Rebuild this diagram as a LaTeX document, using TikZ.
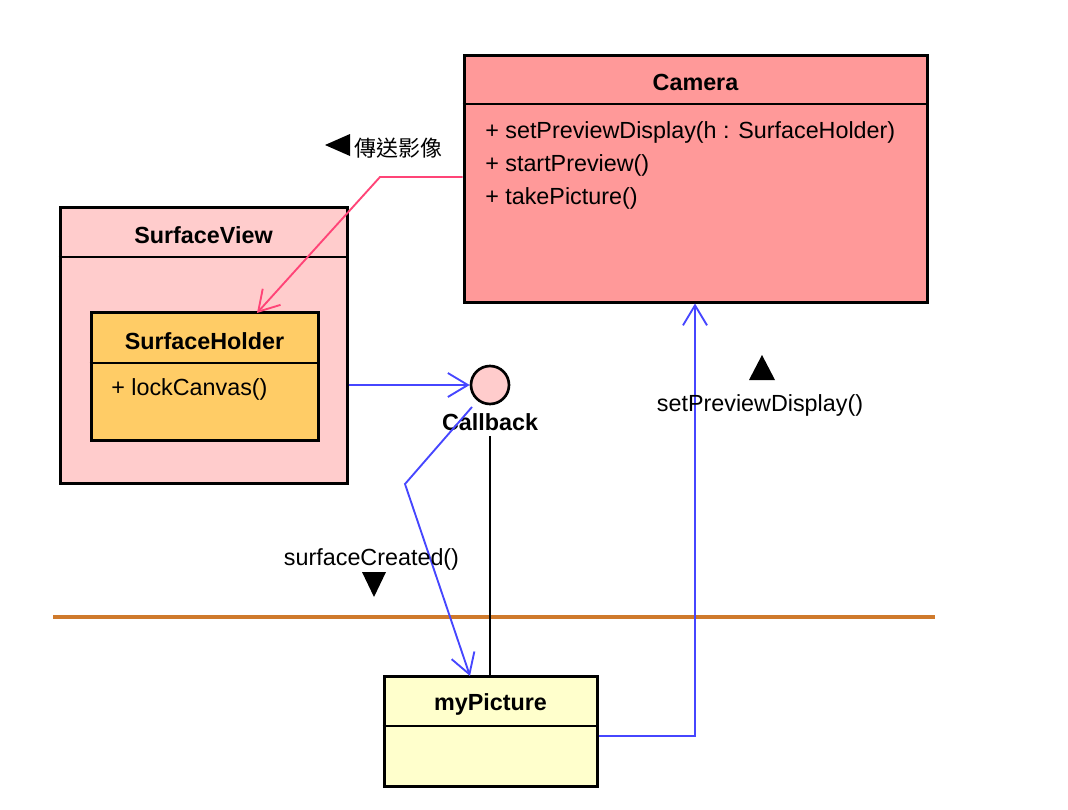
\documentclass[tikz,border=0pt]{standalone}
\usepackage{fontspec}
\setmainfont{Liberation Sans}
\newfontfamily\cjkfont{Noto Sans CJK TC}
\usetikzlibrary{arrows.meta,calc}
\definecolor{camfill}{HTML}{FF9999}
\definecolor{viewfill}{HTML}{FFCCCC}
\definecolor{holderfill}{HTML}{FFCC66}
\definecolor{picfill}{HTML}{FFFFCC}
\definecolor{flowblue}{HTML}{4646FF}
\definecolor{flowpink}{HTML}{FF4477}
\definecolor{boundary}{HTML}{CF7A2C}
\begin{document}
\begin{tikzpicture}[x=0.75pt,y=-0.75pt,
  font=\fontsize{17.5}{20}\selectfont,
  classbox/.style={draw=black, line width=2.25pt, rectangle, inner sep=0pt},
  sepline/.style={line width=1.1pt},
  title/.style={font=\fontsize{17.5}{20}\selectfont\bfseries, inner sep=0pt},
  member/.style={anchor=west, inner sep=0pt},
  label/.style={inner sep=0pt},
  flow/.style={line width=1.4pt, -{Straight Barb[length=15pt,width=18pt]}},
  marker/.style={fill=black}]

% canvas
\fill[white] (0,0) rectangle (1068,810);
\useasboundingbox (0,0) rectangle (1068,810);

% boundary line
\coordinate (bl) at (53,617);
\coordinate (br) at (935,617);
\draw[boundary, line width=2.4pt] (bl) -- (br);

% Camera class
\node[classbox, fill=camfill, minimum width=347.25pt, minimum height=185.25pt] (camera) at (695.5,178.5) {};
\draw[sepline] (camera.west |- 0,104) -- (camera.east |- 0,104);
\node[title] (camtitle) at (695.5,82) {Camera};
\node[member] (m1) at (485,132) {+ setPreviewDisplay(h : SurfaceHolder)};
\node[member] (m2) at (485,165) {+ startPreview()};
\node[member] (m3) at (485,198) {+ takePicture()};

% SurfaceView with nested SurfaceHolder
\node[classbox, fill=viewfill, minimum width=215.25pt, minimum height=207pt] (sview) at (203.5,345) {};
\draw[sepline] (sview.west |- 0,257) -- (sview.east |- 0,257);
\node[title] (svtitle) at (203.5,235) {SurfaceView};

\node[classbox, fill=holderfill, minimum width=170.25pt, minimum height=96pt] (sholder) at (204.5,376) {};
\draw[sepline] (sholder.west |- 0,363) -- (sholder.east |- 0,363);
\node[title] (shtitle) at (204.5,341) {SurfaceHolder};
\node[member] (h1) at (111,389) {+ lockCanvas()};

% Callback interface
\node[circle, draw=black, line width=2pt, fill=viewfill, minimum size=28.5pt, inner sep=0pt] (callback) at (490,385) {};
\node[title] (cblabel) at (490,422) {Callback};

% myPicture class
\node[classbox, fill=picfill, minimum width=159.75pt, minimum height=82.5pt] (mypic) at (490.5,731) {};
\draw[sepline] (mypic.west |- 0,726) -- (mypic.east |- 0,726);
\node[title] (mptitle) at (490.5,704) {myPicture};

% connectors
\coordinate (cbstem) at (490,436);
\draw[line width=1.1pt] (cbstem) -- (mypic.north -| cbstem);
\draw[flow, flowblue] (sview.east |- callback) -- (callback);
\coordinate (cbout) at (472,407);
\draw[flow, flowblue] (cbout) -- (405,484) -- (470,676);
\draw[flow, flowblue] (mypic.east |- 0,736) -- (695,736) -- (camera.south -| 695,0);
\draw[flow, flowpink] (camera.west |- 0,177) -- (380,177) -- (257,313);

% message labels
\fill[marker] (325,145) -- (350,134) -- (350,156) -- cycle;
\node[label, anchor=west] (msg1) at (354,148) {\cjkfont\fontsize{16.5}{20}\selectfont 傳送影像};

\fill[marker] (762,355) -- (775,380) -- (749,380) -- cycle;
\node[label] (msg2) at (760,405) {setPreviewDisplay()};

\node[label] (msg3) at (371.5,559) {surfaceCreated()};
\fill[marker] (362,572) -- (386,572) -- (374,597) -- cycle;

\end{tikzpicture}
\end{document}
